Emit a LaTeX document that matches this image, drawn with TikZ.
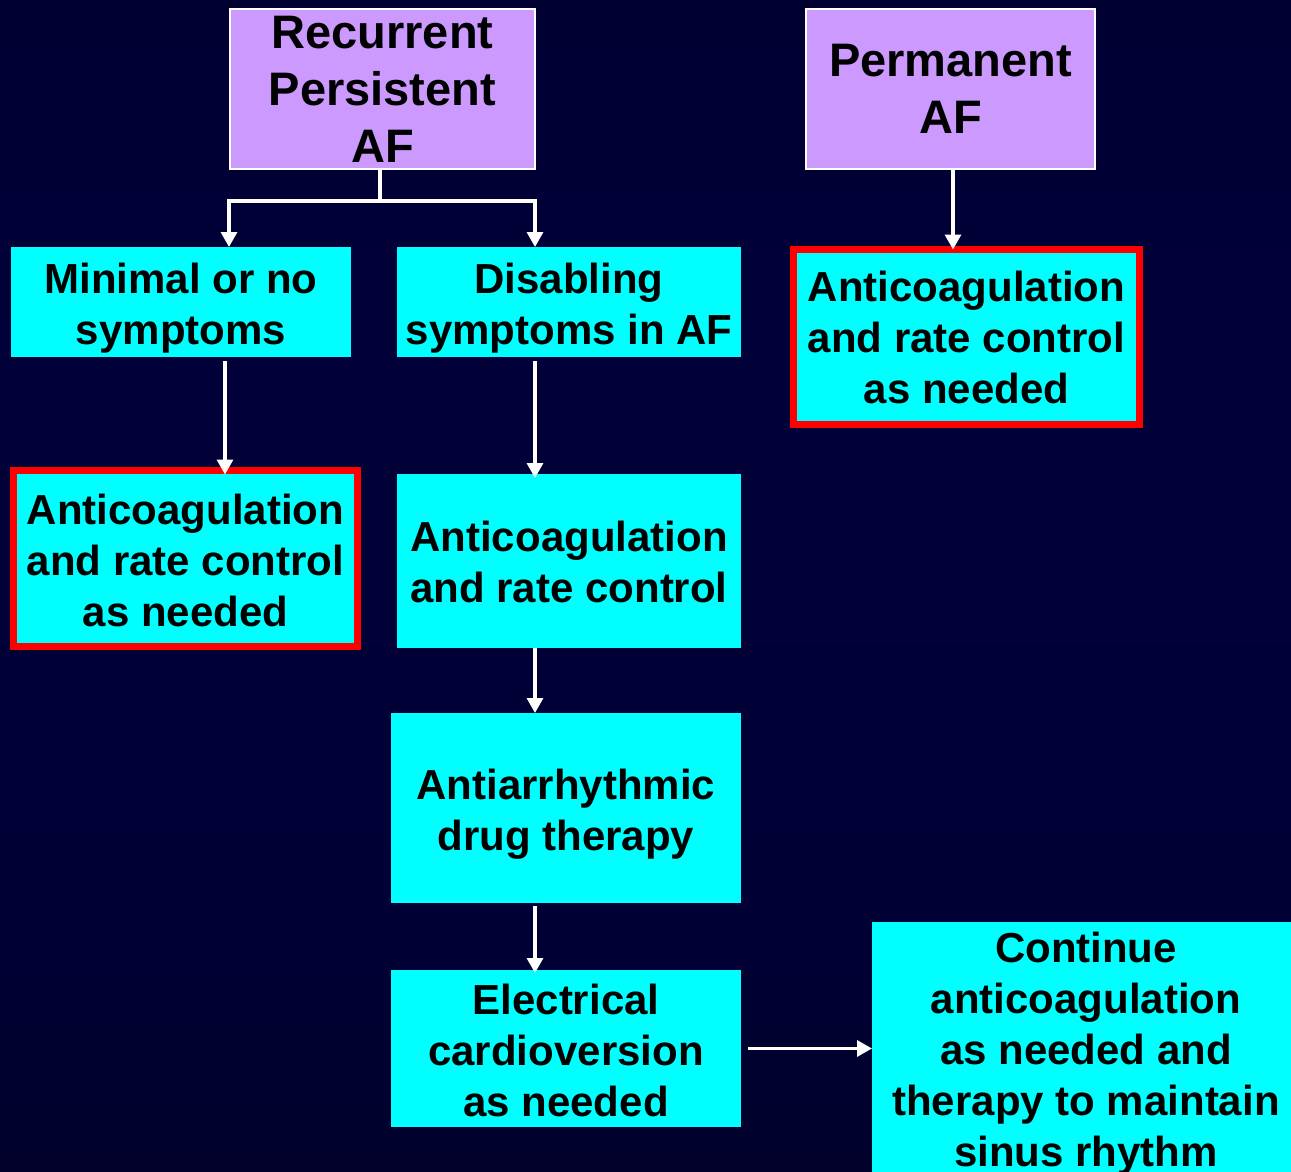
\documentclass[tikz,border=0pt]{standalone}
\usepackage{fontspec}
\setmainfont{Liberation Sans}
\usetikzlibrary{arrows.meta}
\definecolor{aqua}{HTML}{00FFFF}
\definecolor{lav}{HTML}{CC99FF}
\definecolor{bgA}{HTML}{030006}
\definecolor{bgB}{HTML}{010020}
\definecolor{bgC}{HTML}{000035}
\definecolor{bgD}{HTML}{010038}
\definecolor{bgE}{HTML}{000030}
\definecolor{bgF}{HTML}{03021A}
\pgfdeclareverticalshading{bgshade}{100bp}{%
  color(0bp)=(bgA); color(15bp)=(bgB); color(35bp)=(bgC);
  color(60bp)=(bgD); color(83bp)=(bgE); color(100bp)=(bgF)}
\begin{document}
\begin{tikzpicture}[x=1pt,y=-1pt,
  cbox/.style={fill=aqua, inner sep=0pt, outer sep=0pt, align=center,
    font=\fontsize{42}{51}\selectfont\bfseries, text=black},
  rbox/.style={cbox, draw=red, line width=7pt},
  pbox/.style={fill=lav, draw=white, line width=1.5pt, inner sep=0pt, outer sep=0pt, align=center,
    font=\fontsize{47}{57}\selectfont\bfseries, text=black},
  wline/.style={draw=white, line width=3.3pt},
  arr/.style={wline, -{Triangle[width=16pt,length=15pt]}}
]
\useasboundingbox (0,0) rectangle (1291,1172);
\shade[shading=bgshade] (0,0) rectangle (1291,1172);

% purple boxes
\node[pbox, minimum width=305pt, minimum height=160pt] (p1) at (382.5,89) {Recurrent\\Persistent\\AF};
\node[pbox, minimum width=289pt, minimum height=160pt] (p2) at (950.5,89) {Permanent\\AF};

% cyan boxes
\node[cbox, minimum width=340pt, minimum height=110pt] (c1) at (181,302) {\rule{0pt}{43pt}Minimal or no\\symptoms};
\node[cbox, minimum width=344pt, minimum height=110pt] (c2) at (569,302) {\rule{0pt}{43pt}Disabling\\symptoms in AF};
\node[rbox, minimum width=344pt, minimum height=176pt] (c3) at (185.5,558.5) {\rule{0pt}{34pt}Anticoagulation\\and rate control\\as needed};
\node[rbox, minimum width=346pt, minimum height=175pt] (c4) at (966.5,337) {Anticoagulation\\and rate control\\as needed};
\node[cbox, minimum width=344pt, minimum height=174pt] (c5) at (569,561) {\rule{0pt}{33pt}Anticoagulation\\and rate control};
\node[cbox, minimum width=350pt, minimum height=190pt] (c6) at (566,808) {\rule{0pt}{43pt}Antiarrhythmic\\drug therapy};
\node[cbox, minimum width=350pt, minimum height=157pt] (c7) at (566,1048.5) {\rule{0pt}{35pt}Electrical\\cardioversion\\as needed};
\node[cbox, minimum width=428pt, minimum height=258pt] (c8) at (1086,1051) {\rule{0pt}{36pt}Continue\\anticoagulation\\as needed and\\therapy to maintain\\sinus rhythm};

% connectors
\coordinate (fork) at ([xshift=-2.5pt,yshift=-32pt]p1.south);
\draw[wline] ([xshift=-2.5pt]p1.south) -- (fork);
\draw[arr] (fork) -| ([xshift=48pt]c1.north);
\draw[arr] (fork) -| ([xshift=-34pt]c2.north);
\draw[arr] ([xshift=2.5pt]p2.south) -- ([xshift=2.5pt]p2.south |- c4.north);
\draw[arr] ([xshift=44pt,yshift=-4pt]c1.south) -- ([xshift=44pt,yshift=-4pt]c1.south |- c3.north);
\draw[arr] ([xshift=-34pt,yshift=-4pt]c2.south) -- ([xshift=-34pt,yshift=-4pt]c2.south |- c5.north);
\draw[arr] ([xshift=-34pt]c5.south) -- ([xshift=-34pt]c5.south |- c6.north);
\draw[arr] ([xshift=-31pt,yshift=-3pt]c6.south) -- ([xshift=-31pt,yshift=-3pt]c6.south |- c7.north);
\draw[arr] ([xshift=7pt]c7.east) -- (c7.east -| c8.west);
\end{tikzpicture}
\end{document}
